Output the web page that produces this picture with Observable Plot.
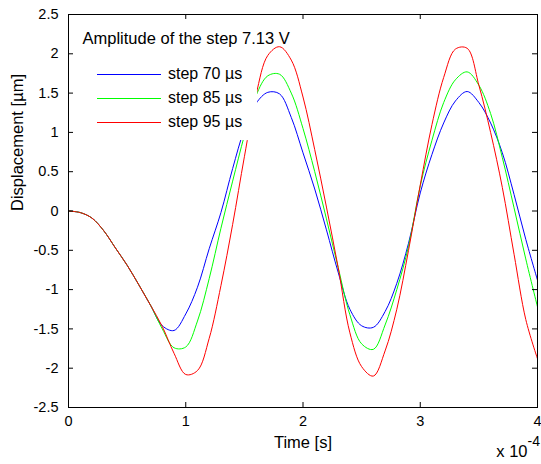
<!DOCTYPE html>
<html>
<head>
<meta charset="utf-8">
<script src="https://cdn.jsdelivr.net/npm/d3@7"></script>
<script src="https://cdn.jsdelivr.net/npm/@observablehq/plot@0.6"></script>
<style>
  html, body { margin: 0; padding: 0; background: #fff; }
  #wrap { position: relative; width: 541px; height: 464px; font-family: "Liberation Sans", Arial, sans-serif; }
  #legend { position: absolute; left: 85px; top: 58px; width: 172px; height: 82px; background: #fff; }
  #legend .row { position: absolute; left: 0; height: 20px; width: 172px; }
  #legend svg { position: absolute; left: 12px; top: 0; }
  #legend span { position: absolute; left: 83px; top: 0px; font-size: 16px; line-height: 20px; color: #000; white-space: nowrap; }
</style>
</head>
<body>
<div id="wrap"></div>
<script>
// Time in units of 1e-4 s
const time = [0,0.1,0.2,0.3,0.4,0.5,0.6,0.7,0.8,0.9,1.0,1.1,1.2,1.3,1.4,1.5,1.6,1.7,1.8,1.9,2.0,
              2.1,2.2,2.3,2.4,2.5,2.6,2.7,2.8,2.9,3.0,3.1,3.2,3.3,3.4,3.5,3.6,3.7,3.8,3.9,4.0];
const step70 = [0,-0.02,-0.09,-0.25,-0.47,-0.69,-0.94,-1.20,-1.46,-1.52,-1.31,-0.97,-0.48,-0.02,0.54,1.04,1.37,1.51,1.49,1.19,0.74,
                0.28,-0.24,-0.78,-1.25,-1.46,-1.48,-1.28,-0.92,-0.41,0.23,0.72,1.12,1.40,1.52,1.38,1.12,0.74,0.21,-0.36,-0.88];
const step85 = [0,-0.02,-0.09,-0.25,-0.47,-0.69,-0.94,-1.20,-1.50,-1.74,-1.73,-1.40,-0.86,-0.22,0.38,0.96,1.47,1.72,1.74,1.50,1.05,
                0.50,-0.10,-0.72,-1.32,-1.69,-1.76,-1.45,-1.00,-0.45,0.32,0.90,1.38,1.67,1.77,1.60,1.24,0.68,0.04,-0.61,-1.22];
const step95 = [0,-0.02,-0.09,-0.25,-0.47,-0.69,-0.94,-1.20,-1.47,-1.81,-2.08,-2.03,-1.62,-0.95,-0.17,0.69,1.48,1.98,2.09,1.92,1.45,
                0.78,0.05,-0.72,-1.55,-1.98,-2.10,-1.78,-1.25,-0.50,0.33,1.10,1.70,2.06,2.07,1.60,1.00,0.30,-0.55,-1.38,-1.88];
const seriesNames = ["step 70 \u00b5s", "step 85 \u00b5s", "step 95 \u00b5s"];
const xTicks = [0, 1, 2, 3, 4];
const yTicks = [-2.5, -2, -1.5, -1, -0.5, 0, 0.5, 1, 1.5, 2, 2.5];
const titleText = "Amplitude of the step 7.13 V";
const xLabel = "Time [s]";
const yLabel = "Displacement [\u00b5m]";

const colors = ["#0000ff", "#00ff00", "#ff0000"];
const seriesValues = [step70, step85, step95];
const rows = (vals, name) => time.map((t, i) => ({t, v: vals[i], series: name}));

const W = 541, H = 464, mL = 68, mR = 4, mT = 14, mB = 57;
const fw = W - mL - mR, fh = H - mT - mB, tk = 5;
const font = "'Liberation Sans', Arial, sans-serif";

const chart = Plot.plot({
  width: W, height: H,
  marginLeft: mL, marginRight: mR, marginTop: mT, marginBottom: mB,
  x: {domain: [0, 4]},
  y: {domain: [-2.5, 2.5]},
  style: {fontFamily: font, fontSize: "14px", color: "#000", background: "#fff"},
  marks: [
    ...seriesValues.map((vals, i) =>
      Plot.line(rows(vals, seriesNames[i]), {x: "t", y: "v", stroke: colors[i], strokeWidth: 1, curve: "catmull-rom", clip: true})
    ),
    Plot.frame({stroke: "#000", strokeWidth: 1}),
    Plot.tickX(xTicks, {x: d => d, stroke: "#000", insetTop: fh - tk}),
    Plot.tickX(xTicks, {x: d => d, stroke: "#000", insetBottom: fh - tk}),
    Plot.tickY(yTicks, {y: d => d, stroke: "#000", insetRight: fw - tk}),
    Plot.tickY(yTicks, {y: d => d, stroke: "#000", insetLeft: fw - tk}),
    Plot.axisX(xTicks, {tickSize: 0, tickPadding: 8, tickFormat: d => String(d), label: null, fontSize: 14.5}),
    Plot.axisY(yTicks, {tickSize: 0, tickPadding: 10, tickFormat: d => String(d), label: null, fontSize: 14.5}),
    Plot.text([yLabel], {frameAnchor: "left", dx: -51, rotate: -90, fontSize: 16.5}),
    Plot.text([xLabel], {frameAnchor: "bottom", dy: 40, fontSize: 16.5}),
    Plot.text(["x 10"], {frameAnchor: "bottom-right", textAnchor: "end", dx: -10, dy: 49, fontSize: 16.5}),
    Plot.text(["-4"], {frameAnchor: "bottom-right", textAnchor: "start", dx: -10, dy: 38, fontSize: 14}),
    Plot.text([titleText], {frameAnchor: "top-left", textAnchor: "start", dx: 14, dy: 18, fontSize: 16.5})
  ]
});

const wrap = document.getElementById("wrap");
wrap.appendChild(chart);

// Legend box (white, no border) overlaid on the axes
const legend = document.createElement("div");
legend.id = "legend";
seriesNames.forEach((name, i) => {
  const row = document.createElement("div");
  row.className = "row";
  row.style.top = (6 + i * 24) + "px";
  const svg = d3.create("svg").attr("width", 66).attr("height", 20);
  svg.append("line").attr("x1", 0).attr("x2", 64).attr("y1", 10.5).attr("y2", 10.5)
    .attr("stroke", colors[i]).attr("stroke-width", 1);
  row.appendChild(svg.node());
  const sp = document.createElement("span");
  sp.textContent = name;
  row.appendChild(sp);
  legend.appendChild(row);
});
wrap.appendChild(legend);
</script>
</body>
</html>
